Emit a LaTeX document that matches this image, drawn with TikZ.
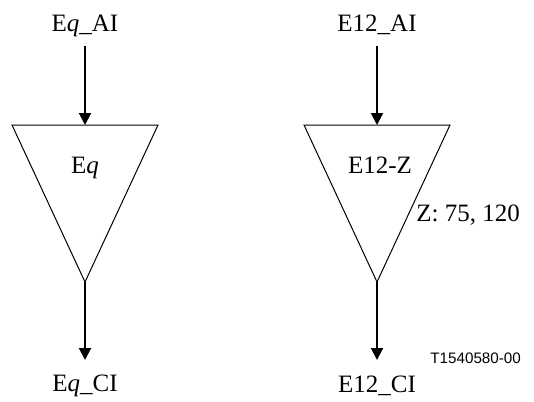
\documentclass[tikz,border=0pt]{standalone}
\usepackage{fontspec}
\setmainfont{Liberation Serif}
\setsansfont{Liberation Sans}
\usepackage{tikz}
\usetikzlibrary{positioning,arrows.meta}

\begin{document}
\begin{tikzpicture}[x=0.5pt, y=-0.5pt,
        lbl/.style={inner sep=6pt, text height=0.68em, text depth=0.22em, font=\fontsize{12.5}{15}\selectfont},
        tri/.style={draw=black, line width=0.5pt, line join=miter},
        arrow/.style={draw=black, line width=1pt, -{Triangle[length=6pt, width=6pt]}}
    ]
        \useasboundingbox (0,0) rectangle (534,401);

        % Eq side
        \coordinate (eq_top) at (85,125);
        \coordinate (eq_apex) at (85,282);
        \draw [tri] (eq_top) ++(-73,0) -- ++(146,0) -- (eq_apex) -- cycle;
        \node [lbl, inner sep=0pt] (eq) at (85,169) {E\textit{q}};
        \node [lbl, inner ysep=5pt, above=39.5pt of eq_top] (eq_ai) {E\textit{q}\_AI};
        \node [lbl, inner ysep=8.5pt, below=39pt of eq_apex] (eq_ci) {E\textit{q}\_CI};

        % E12 side
        \coordinate (e12_top) at (377,125);
        \coordinate (e12_apex) at (377,282);
        \draw [tri] (e12_top) ++(-73,0) -- ++(146,0) -- (e12_apex) -- cycle;
        \node [lbl, inner sep=0pt] (e12) at (380,169) {E12-Z};
        \node [lbl, inner ysep=5pt, above=39.5pt of e12_top] (e12_ai) {E12\_AI};
        \node [lbl, inner ysep=9pt, below=39pt of e12_apex] (e12_ci) {E12\_CI};
        \node [lbl, inner sep=0pt, anchor=west] (e12_z) at (416,217) {Z: 75, 120};

        \draw [arrow] (eq_ai) -- (eq_top);
        \draw [arrow] (eq_apex) -- (eq_ci);
        \draw [arrow] (e12_ai) -- (e12_top);
        \draw [arrow] (e12_apex) -- (e12_ci);

        \node [anchor=west, inner sep=0pt, font=\sffamily\fontsize{7.6}{9}\selectfont] (fig_id) at (430,358) {T1540580-00};
    \end{tikzpicture}
\end{document}
